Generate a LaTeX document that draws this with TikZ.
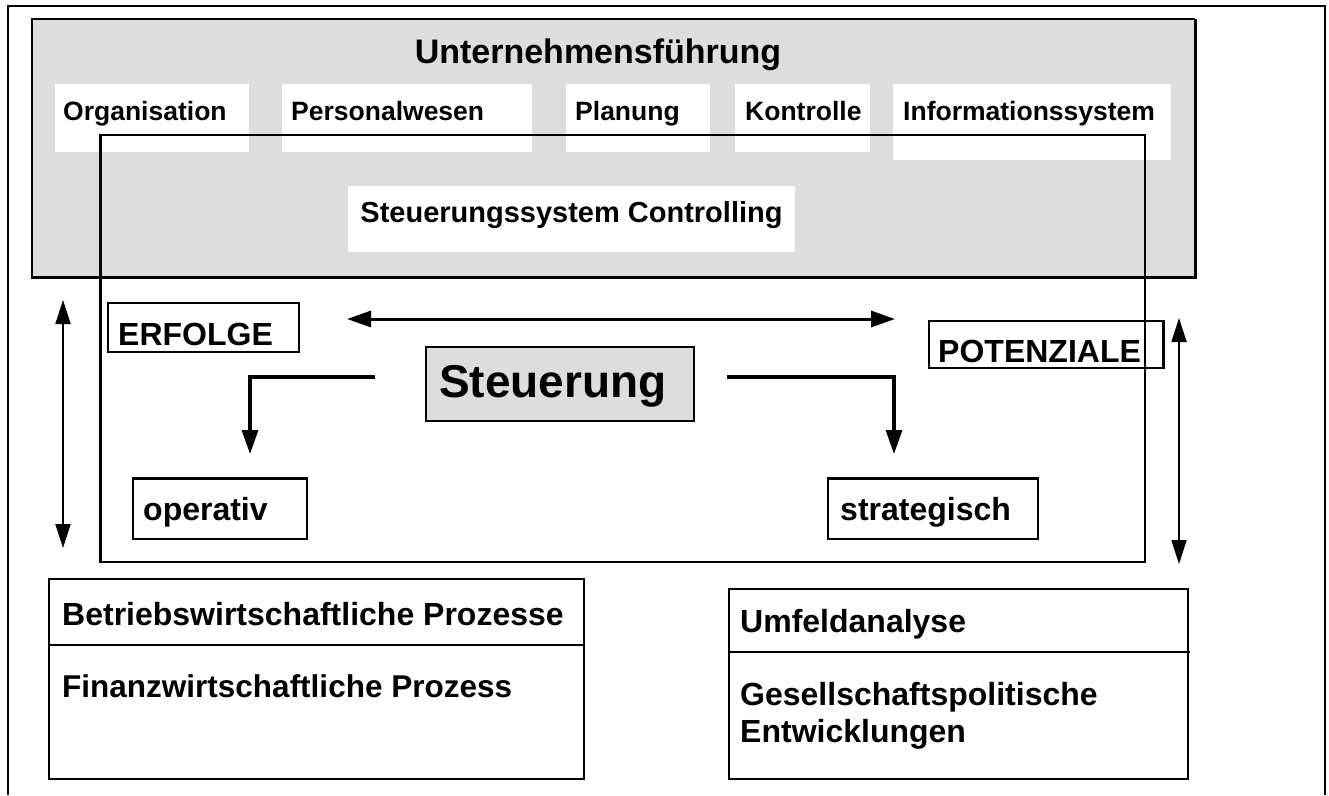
\documentclass[tikz,border=0pt]{standalone}
\usepackage{fontspec}
\setmainfont{Liberation Sans}
\usetikzlibrary{arrows.meta}

\definecolor{panelgray}{HTML}{DDDDDD}

\begin{document}
\begin{tikzpicture}[x=1pt,y=-1pt,
  txt/.style={font=\bfseries\fontsize{#1}{#1}\selectfont, inner sep=0pt, anchor=base west},
  ctxt/.style={font=\bfseries\fontsize{#1}{#1}\selectfont, inner sep=0pt, anchor=base},
  whitebox/.style={fill=white, draw=none, inner sep=0pt, anchor=north west},
  framebox/.style={draw=black, line width=1.6pt, inner sep=0pt, anchor=north west},
  thinline/.style={line width=1.6pt},
  boldarrow/.style={line width=3.2pt, -{Triangle[length=24pt,width=16pt]}},
  boldboth/.style={line width=3pt, {Triangle[length=24pt,width=16pt]}-{Triangle[length=24pt,width=16pt]}},
  slimboth/.style={line width=1.8pt, {Triangle[length=24pt,width=15pt]}-{Triangle[length=24pt,width=15pt]}}]

\useasboundingbox (0,0) rectangle (1329,795);
\fill[white] (0,0) rectangle (1329,795);

% outer frame, open at the bottom
\draw[thinline] (8,795) -- (8,6) -- (1325,6) -- (1325,795);

% management panel
\fill[panelgray] (32,19) rectangle (1195,277);
\draw[line width=1.8pt] (32,277) -- (32,19) -- (1195,19);
\draw[line width=3pt] (1195,19) -- (1195,277) -- (31,277);

\node[ctxt=34] (uf) at (598,63) {Unternehmensführung};

% function boxes
\node[whitebox, minimum width=194pt, minimum height=68pt] (org) at (55,84) {};
\node[whitebox, minimum width=250pt, minimum height=68pt] (pers) at (282,84) {};
\node[whitebox, minimum width=144pt, minimum height=68pt] (plan) at (566,84) {};
\node[whitebox, minimum width=135pt, minimum height=68pt] (kontr) at (735,84) {};
\node[whitebox, minimum width=278pt, minimum height=76pt] (info) at (893,84) {};
\node[txt=26.5] (orgt) at (63,120) {Organisation};
\node[txt=26.5] (perst) at (291,120) {Personalwesen};
\node[txt=26.5] (plant) at (575,120) {Planung};
\node[txt=26.5] (kontrt) at (745,120) {Kontrolle};
\node[txt=26.5] (infot) at (903,120) {Informationssystem};

\node[whitebox, minimum width=447pt, minimum height=66pt] (ctrl) at (348,186) {};
\node[ctxt=29] (ctrlt) at (571.5,222) {Steuerungssystem Controlling};

% steering frame
\draw[line width=2pt] (100,135) -- (1145,135) -- (1145,562) -- (100,562);
\draw[line width=3pt] (100,134) -- (100,563);

% ERFOLGE / POTENZIALE
\node[framebox, minimum width=191pt, minimum height=49pt] (erf) at (107,302) {};
\node[txt=32] (erft) at (118,345) {ERFOLGE};
\node[framebox, minimum width=234pt, minimum height=47pt] (pot) at (928,320) {};
\draw[line width=3pt] (pot.north east) -- (pot.south east);
\node[txt=32] (pott) at (938,362) {POTENZIALE};

% central steering box
\node[framebox, fill=panelgray, minimum width=268pt, minimum height=74pt] (st) at (425,346) {};
\node[txt=46] (stt) at (439,397) {Steuerung};

% operativ / strategisch
\node[framebox, minimum width=174pt, minimum height=60pt] (op) at (132,478) {};
\draw[line width=3pt] (op.north west) -- (op.north east);
\node[txt=32] (opt) at (143,520) {operativ};
\node[framebox, minimum width=210pt, minimum height=60pt] (str) at (827,478) {};
\draw[line width=3pt] (str.north west) -- (str.north east);
\node[txt=32] (strt) at (840,520) {strategisch};

% arrows
\coordinate (hL) at (347,319);
\coordinate (hR) at (895,319);
\draw[boldboth] (hL) -- (hR);

\coordinate (eLs) at (375,377);
\coordinate (eLe) at (250,454);
\draw[boldarrow] (eLs) -| (eLe);
\coordinate (eRs) at (727,377);
\coordinate (eRe) at (894,454);
\draw[boldarrow] (eRs) -| (eRe);

\coordinate (vLt) at (63,300);
\coordinate (vLb) at (63,548);
\draw[slimboth] (vLt) -- (vLb);
\coordinate (vRt) at (1179,318);
\coordinate (vRb) at (1179,564);
\draw[slimboth] (vRt) -- (vRb);

% process boxes
\node[framebox, minimum width=535pt, minimum height=200pt] (bp) at (48,578) {};
\draw[thinline] (bp.west |- 0,645) -- (bp.east |- 0,645);
\node[txt=32] (bpt1) at (62,625) {Betriebswirtschaftliche Prozesse};
\node[txt=31.5] (bpt2) at (62,697) {Finanzwirtschaftliche Prozess};

\node[framebox, minimum width=459pt, minimum height=190pt] (ua) at (728,588) {};
\draw[thinline] (ua.west |- 0,652) -- (1190,652);
\node[txt=32] (uat1) at (740,632) {Umfeldanalyse};
\node[txt=32] (uat2) at (740,705) {Gesellschaftspolitische};
\node[txt=32] (uat3) at (740,742) {Entwicklungen};

\end{tikzpicture}
\end{document}
